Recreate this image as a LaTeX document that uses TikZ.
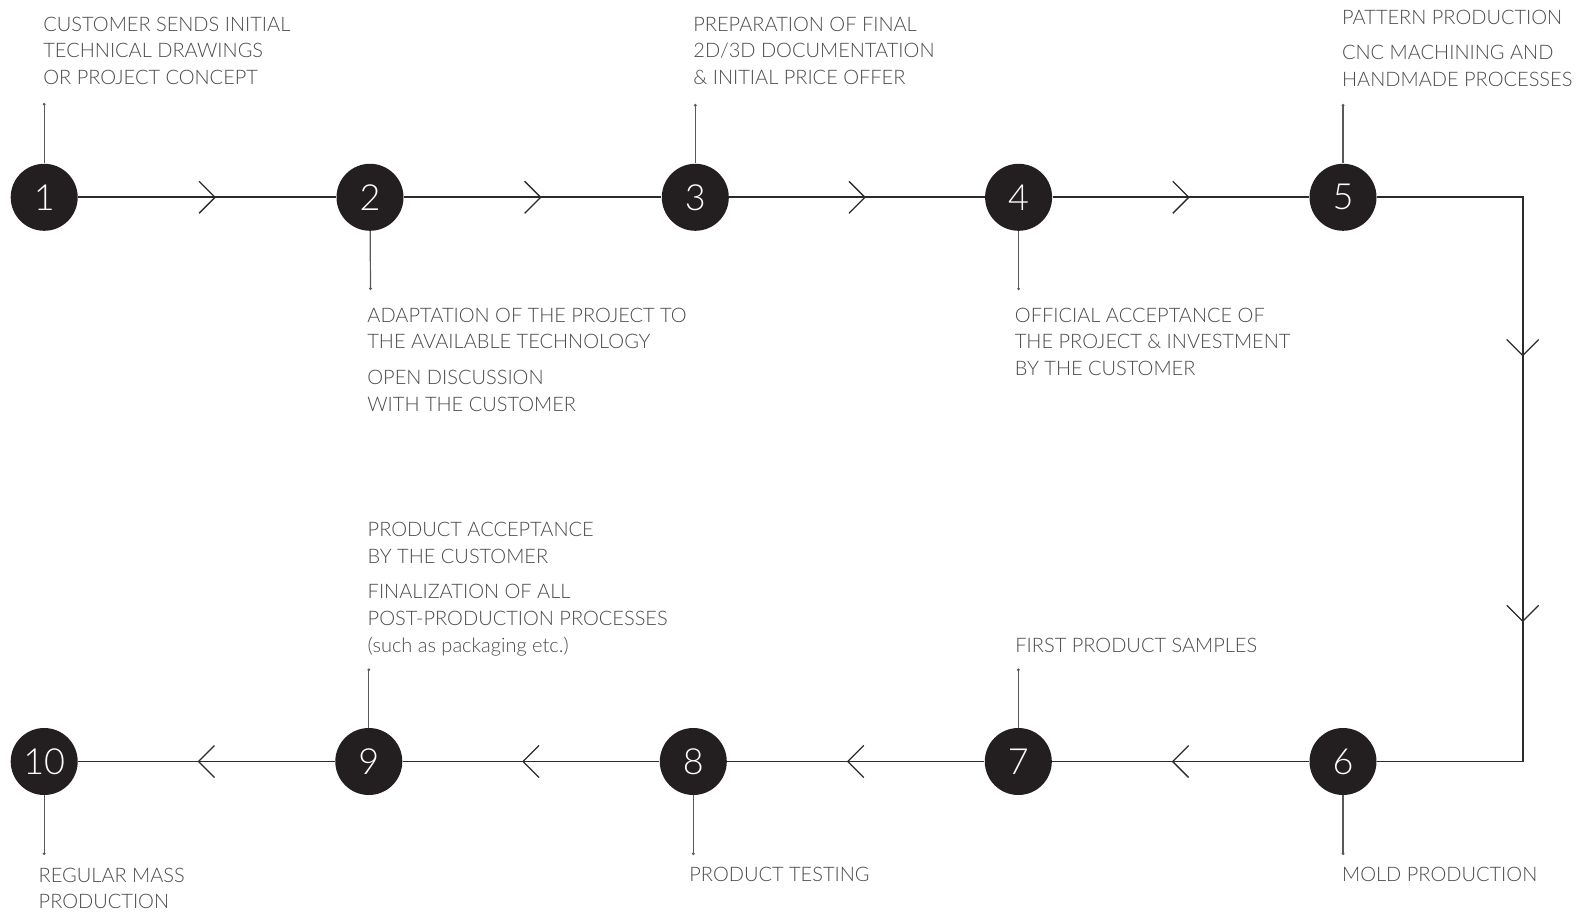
\documentclass[tikz,border=0pt]{standalone}
\usepackage{fontspec}
\setmainfont{Lato Light}
\usetikzlibrary{arrows.meta, decorations.markings, calc}
\definecolor{circfill}{HTML}{231F20}
\definecolor{linegray}{HTML}{2B2B2B}
\definecolor{tickgray}{HTML}{5A5A5A}
\definecolor{txtgray}{HTML}{4A4A4A}
\tikzset{
  stepcirc/.style={
    circle,
    fill=circfill,
    text=white,
    inner sep=0pt,
    minimum size=33.5pt,
    font=\fontsize{18}{18}\selectfont
  },
%
  stepnote/.style={
    anchor=north west,
    inner sep=0pt,
    align=left,
    text=txtgray,
    font=\fontsize{10}{13.3}\selectfont
  },
%
  chev/.style={
    draw=linegray,
    line width=0.65pt
  },
%
  chevmark/.style={
    postaction={
      decorate,
      decoration={
        markings,
        mark=at position #1 with {\draw[chev] (-4pt,8pt) -- (4pt,0pt) -- (-4pt,-8pt);},
      },
    },
  },
  chevmark/.default={0.5},
%
  flow/.style={
    draw=linegray,
    line width=0.9pt,
    chevmark
  },
%
  tick/.style={
    draw=tickgray,
    line width=0.6pt,
    -{Circle[length=1.3pt]}
  },
}
\begin{document}
\begin{tikzpicture}[x=0.5pt, y=-0.5pt]
\useasboundingbox (0,0) rectangle (1589,914);

\node[stepcirc] at (44.2,197.3) (n1) {1};
\node[stepcirc] at (370,197.3) (n2) {2};
\node[stepcirc] at (695.3,197.3) (n3) {3};
\node[stepcirc] at (1018.6,197.3) (n4) {4};
\node[stepcirc] at (1343,197.3) (n5) {5};
\node[stepcirc] at (1343,761.5) (n6) {6};
\node[stepcirc] at (1018.3,761.5) (n7) {7};
\node[stepcirc] at (693.3,761.5) (n8) {8};
\node[stepcirc] at (368.8,761.5) (n9) {9};
\node[stepcirc] at (44.2,761.5) (n10) {10};

\coordinate (turn) at (1522.7,197.3);
\coordinate (turnb) at (1522.7,761.5);

\draw[flow] (n1) -- (n2);
\draw[flow] (n2) -- (n3);
\draw[flow] (n3) -- (n4);
\draw[flow] (n4) -- (n5);
\draw[draw=linegray, line width=0.9pt, chevmark=148pt, chevmark=280.9pt] (n5) -- (turn) -- (turnb) -- (n6);
\draw[flow] (n6) -- (n7);
\draw[flow] (n7) -- (n8);
\draw[flow] (n8) -- (n9);
\draw[flow] (n9) -- (n10);

% free ends of the ticks
\coordinate (e1) at (44.2,103);
\coordinate (e2) at (370.5,290);
\coordinate (e3) at (695.3,104);
\coordinate (e4) at (1018.6,290);
\coordinate (e5) at (1343,104);
\coordinate (e6) at (1343,855);
\coordinate (e7) at (1018.3,668.5);
\coordinate (e8) at (693.3,855);
\coordinate (e9) at (368.8,668.5);
\coordinate (e10) at (44.2,855);

\draw[tick] (n1) -- (e1);
\draw[tick] (n2) -- (e2);
\draw[tick] (n3) -- (e3);
\draw[tick] (n4) -- (e4);
\draw[tick] (n5) -- (e5);
\draw[tick] (n6) -- (e6);
\draw[tick] (n7) -- (e7);
\draw[tick] (n8) -- (e8);
\draw[tick] (n9) -- (e9);
\draw[tick] (n10) -- (e10);

\node[stepnote] at (43,16.5) (t1) {CUSTOMER SENDS INITIAL\\TECHNICAL DRAWINGS\\OR PROJECT CONCEPT};
\node[stepnote] at (367,307.5) (t2) {ADAPTATION OF THE PROJECT TO\\THE AVAILABLE TECHNOLOGY\\[4.5pt]OPEN DISCUSSION\\WITH THE CUSTOMER};
\node[stepnote] at (693,16.5) (t3) {PREPARATION OF FINAL\\2D/3D DOCUMENTATION\\\& INITIAL PRICE OFFER};
\node[stepnote] at (1014.5,307.5) (t4) {OFFICIAL ACCEPTANCE OF\\THE PROJECT \& INVESTMENT\\BY THE CUSTOMER};
\node[stepnote] at (1341.7,9.5) (t5) {PATTERN PRODUCTION\\[4.5pt]CNC MACHINING AND\\HANDMADE PROCESSES};
\node[stepnote] at (1341.7,867) (t6) {MOLD PRODUCTION};
\node[stepnote] at (1015,638) (t7) {FIRST PRODUCT SAMPLES};
\node[stepnote] at (689,867) (t8) {PRODUCT TESTING};
\node[stepnote] at (367.3,522) (t9) {PRODUCT ACCEPTANCE\\BY THE CUSTOMER\\[4.5pt]FINALIZATION OF ALL\\POST-PRODUCTION PROCESSES\\(such as packaging etc.)};
\node[stepnote] at (38.3,867.5) (t10) {REGULAR MASS\\PRODUCTION};

\end{tikzpicture}
\end{document}
